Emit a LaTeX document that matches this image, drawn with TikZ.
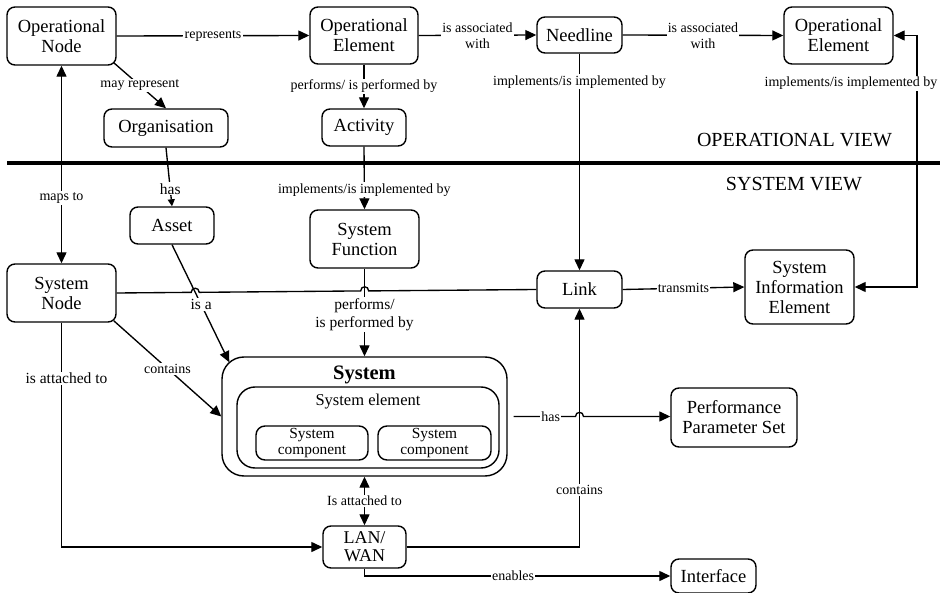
\documentclass[tikz,border=0pt]{standalone}
\usepackage{fontspec}
\setmainfont{Liberation Serif}
\usetikzlibrary{arrows.meta,calc,intersections}

\newcommand{\boxfont}{\fontsize{18.5}{20}\selectfont}
\newcommand{\lblfont}{\fontsize{14}{16}\selectfont}
\newcommand{\lblbig}{\fontsize{15.5}{18}\selectfont}
\newcommand{\viewfont}{\fontsize{20}{22}\selectfont}
\newcommand{\compfont}{\fontsize{15.4}{15.5}\selectfont}

\tikzset{
  ent/.style={draw, line width=1.4pt, rounded corners=8pt, align=center,
              font=\boxfont, inner sep=0pt},
  lbl/.style={fill=white, inner sep=1.2pt, font=\lblfont, align=center},
  lblb/.style={lbl, font=\lblbig},
  conn/.style={line width=1.35pt},
  arr/.style={-{Triangle[length=11pt,width=10pt]}},
  arrsmall/.style={-{Triangle[length=7pt,width=7pt]}},
  arr2/.style={{Triangle[length=11pt,width=10pt]}-{Triangle[length=11pt,width=10pt]}},
}

\begin{document}
\begin{tikzpicture}[x=1pt,y=-1pt]
\useasboundingbox (0,0) rectangle (944,593);

% separator between the two views
\coordinate (sepL) at (7,163);
\coordinate (sepR) at (940,163);
\draw[line width=4pt] (sepL) -- (sepR);
\node[font=\viewfont] (opv) at (794.5,140) {OPERATIONAL VIEW};
\node[font=\viewfont] (sysv) at (794,184.5) {SYSTEM VIEW};

% operational view
\node[ent, minimum width=109pt, minimum height=58pt] (ON)  at (61.5,36)   {Operational\\Node};
\node[ent, minimum width=108pt, minimum height=57pt] (OE)  at (364,35.5)  {Operational\\Element};
\node[ent, minimum width=85pt,  minimum height=36pt] (NL)  at (579.5,35)  {Needline};
\node[ent, minimum width=109pt, minimum height=57pt] (OE2) at (838.5,35.5){Operational\\Element};
\node[ent, minimum width=124pt, minimum height=38pt] (ORG) at (166,128)   {Organisation};
\node[ent, minimum width=84pt,  minimum height=37pt] (ACT) at (364,127.5) {Activity};

% system view
\node[ent, minimum width=84pt,  minimum height=37pt] (AS)  at (172,225.5) {Asset};
\node[ent, minimum width=109pt, minimum height=58pt] (SF)  at (364.5,239) {System\\Function};
\node[ent, minimum width=109pt, minimum height=58pt] (SN)  at (61.5,293)  {System\\Node};
\node[ent, minimum width=85pt,  minimum height=37pt] (LK)  at (579.5,289.5) {Link};
\node[ent, minimum width=109pt, minimum height=74pt] (SIE) at (799.5,287)  {System\\Information\\Element};
\node[ent, minimum width=126pt, minimum height=59pt] (PPS) at (734,417.5) {Performance\\Parameter Set};
\node[ent, minimum width=83pt,  minimum height=42pt, font=\fontsize{18}{18}\selectfont] (LAN) at (364.5,547) {LAN/\\WAN};
\node[ent, minimum width=85pt,  minimum height=34pt] (IF)  at (713.5,576) {Interface};

% system container with its element and components
\node[draw, line width=1.4pt, rounded corners=22pt, minimum width=285pt, minimum height=119pt] (SYS) at (364.5,416.5) {};
\node[draw, line width=1.4pt, rounded corners=18pt, minimum width=262pt, minimum height=81pt] (SEL) at (368,427.5) {};
\node[font=\bfseries\fontsize{20.5}{22}\selectfont] (SYST) at (364.5,375) {System};
\node[font=\fontsize{16.5}{18}\selectfont] (SELT) at (368,402) {System element};
\node[ent, rounded corners=9pt, minimum width=112pt, minimum height=34pt, font=\compfont] (C1) at (312,443)   {System\\component};
\node[ent, rounded corners=9pt, minimum width=113pt, minimum height=34pt, font=\compfont] (C2) at (434.5,443) {System\\component};

% helper points
\coordinate (onSE) at ($(ON.south east)+(-3,-3)$);
\coordinate (snSE) at ($(SN.south east)+(-3,-2)$);
\coordinate (sysA) at ($(SYS.north west)+(8,6)$);
\coordinate (hasS) at ($(SYS.east)+(6,0)$);
\coordinate (rc)   at (917,160);

% operational connectors
\draw[conn,arr] (ON.east) -- node[lbl]{represents} (OE.west);
\draw[conn,arr] (onSE) -- node[lbl]{may represent} (ORG.north);
\draw[conn,arr] (OE.east) -- node[lbl]{is associated\\with} (NL.west);
\draw[conn,arr] (NL.east) -- node[lbl]{is associated\\with} (OE2.west);
\draw[conn,arr] (OE.south) -- node[lbl]{performs/ is performed by} (ACT.north);

% connectors across the views
\draw[conn,arr] (NL.south) -- node[lbl,pos=0.13]{implements/is implemented by} (LK.north);
\draw[conn,arr] (ACT.south) -- node[lbl,pos=0.69]{implements/is implemented by} (SF.north);
\draw[conn,arr2] (ON.south) -- node[lbl,pos=0.67]{maps to} (SN.north);
\draw[conn,arrsmall] (ORG.south) -- node[lblb,pos=0.7]{has} (AS.north);
\draw[conn,arr2] (OE2.east) -- (OE2.east -| rc)
   -- node[lbl,pos=0.19,xshift=-66pt]{implements/is implemented by} (SIE.east -| rc) -- (SIE.east);

% system connectors
\draw[conn,arr,name path=isa] (AS.south) -- node[lblb,pos=0.51]{is a} (sysA);
\path[name path=snl] (SN.east) -- (LK.west);
\path[name intersections={of=isa and snl, by=j1}];
\coordinate (j2) at ($(SN.east)!(SF.south)!(LK.west)$);
\draw[conn] (SN.east) -- ($(j1)+(-4,0)$) .. controls +(0,-5.5) and +(0,-5.5) .. ($(j1)+(4,0)$)
   -- ($(j2)+(-4,0)$) .. controls +(0,-5.5) and +(0,-5.5) .. ($(j2)+(4,0)$) -- (LK.west);

\draw[conn,arr] (SF.south) -- node[lblb,pos=0.52]{performs/\\is performed by} (SYS.north);
\draw[conn,arr] (snSE) -- node[lbl]{contains} (SYS.west);
\draw[conn,arr] (SN.south) |- node[lblb,pos=0.124,xshift=5pt]{is attached to} (LAN.west);
\draw[conn,arr2] (SYS.south) -- node[lbl]{Is attached to} (LAN.north);
\draw[conn,arr] (LAN.east) -| node[lbl,pos=0.62]{contains} (LK.south);
\coordinate (j3) at (hasS -| LK);
\draw[conn,arr] (hasS) -- node[lbl,pos=0.6]{has} ($(j3)+(-4,0)$)
   .. controls +(0,-5.5) and +(0,-5.5) .. ($(j3)+(4,0)$) -- (hasS -| PPS.west);
\draw[conn,arr] (LAN.south) |- node[lbl,pos=0.743]{enables} (IF.west);
\draw[conn,arr] (LK.east) -- node[lbl]{transmits} (SIE.west);
\end{tikzpicture}
\end{document}
